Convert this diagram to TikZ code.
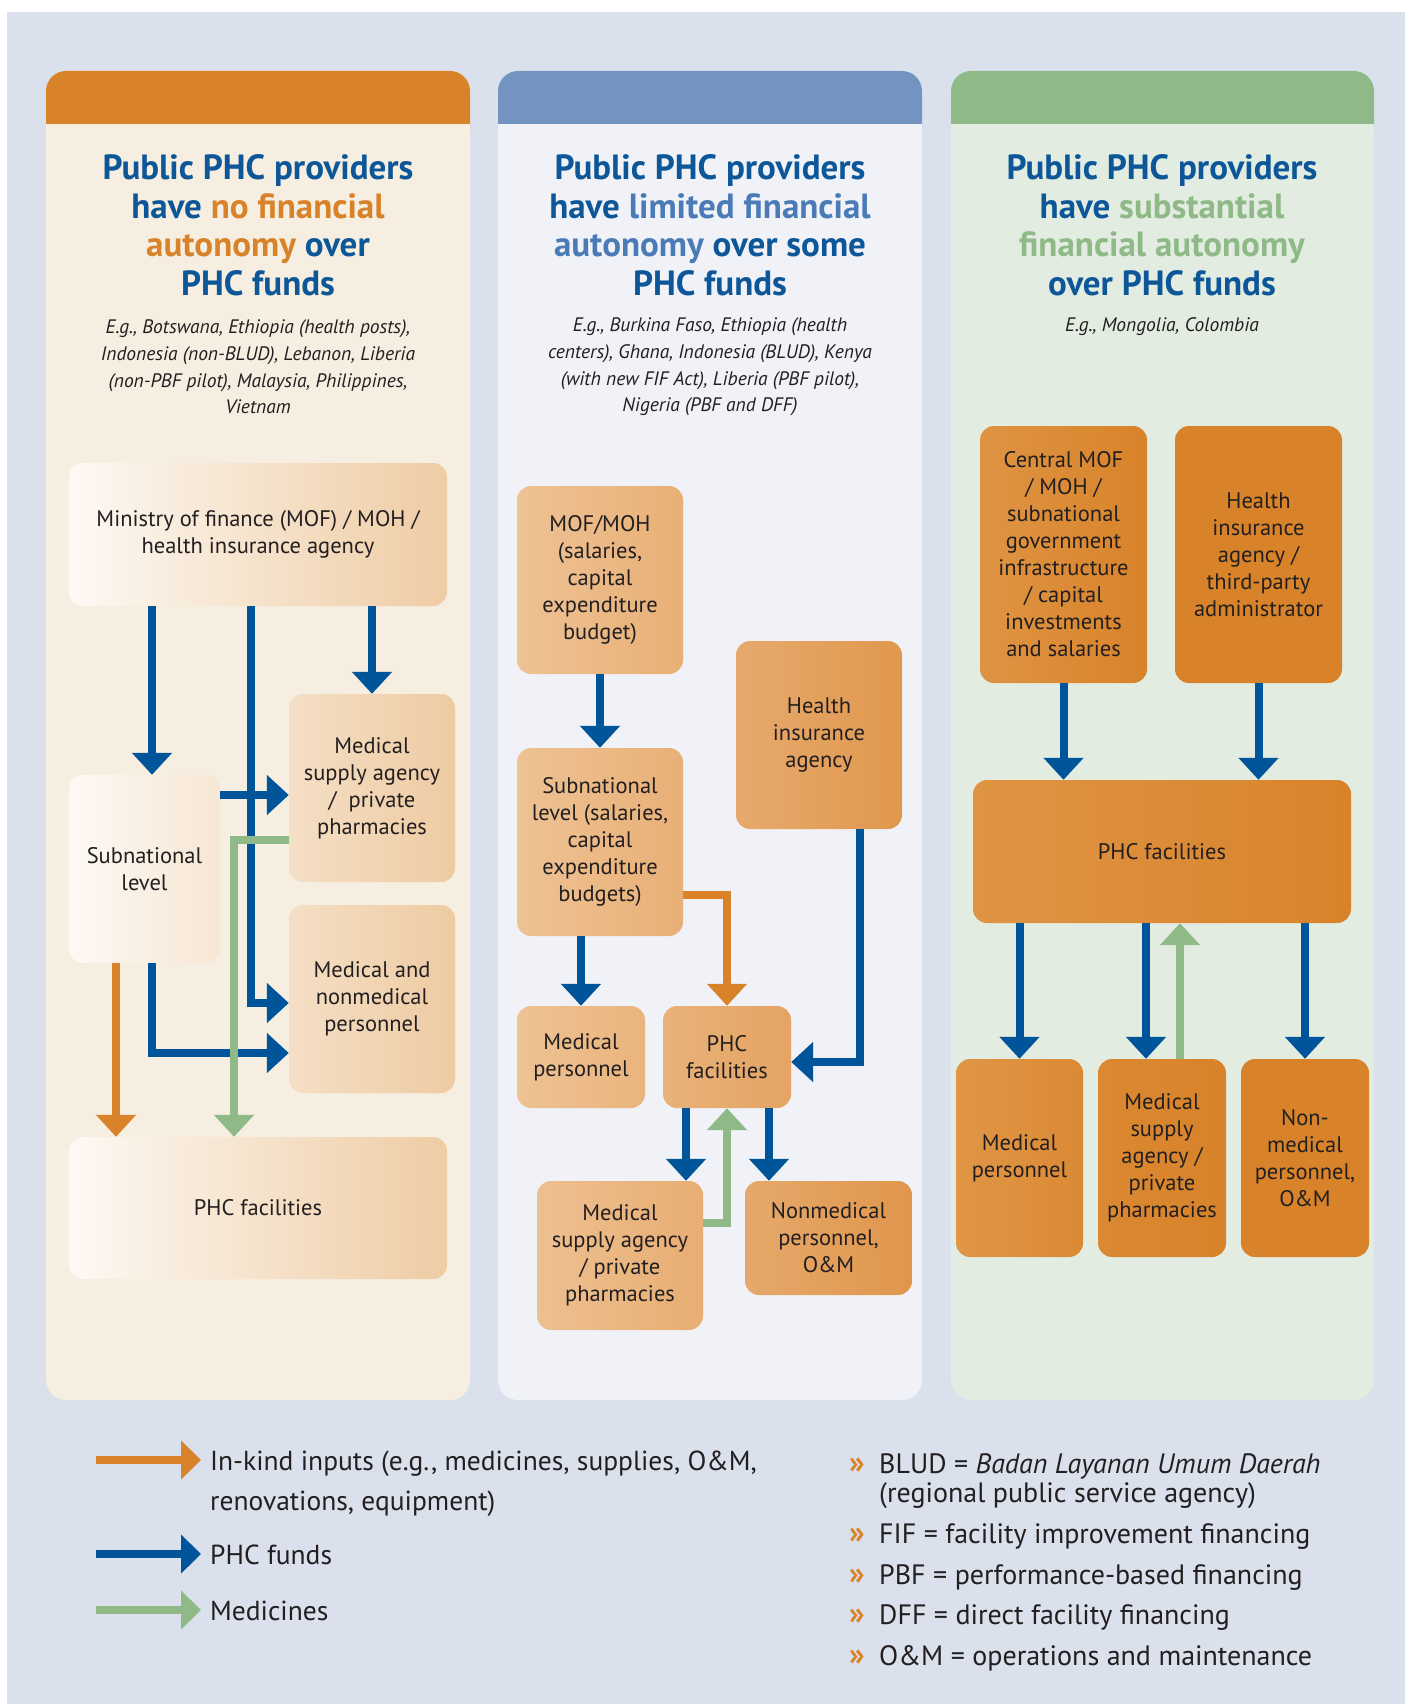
\documentclass[tikz,border=0pt]{standalone}
\usepackage{fontspec}
\setmainfont{PT Sans}
\usepackage{tikz}
\usetikzlibrary{arrows.meta, positioning, calc}

\definecolor{pageBg}{HTML}{DAE0EC}
\definecolor{hdrA}{HTML}{D8832A}
\definecolor{hdrB}{HTML}{7393C0}
\definecolor{hdrC}{HTML}{8FBA88}
\definecolor{bodyA}{HTML}{F5EEE1}
\definecolor{bodyB}{HTML}{F0F2F8}
\definecolor{bodyC}{HTML}{E2ECE1}
\definecolor{titleBlue}{HTML}{0D5799}
\definecolor{midBlue}{HTML}{4A7BB7}
\definecolor{fundBlue}{HTML}{00559A}
\definecolor{kindOr}{HTML}{D8832A}
\definecolor{medGr}{HTML}{8FBA88}
\definecolor{inkDark}{HTML}{231F20}
\definecolor{aL}{HTML}{FDF9F4}
\definecolor{aR}{HTML}{EECBA2}
\definecolor{bL}{HTML}{EEC294}
\definecolor{bR}{HTML}{E0964C}
\definecolor{cL}{HTML}{E09646}
\definecolor{cR}{HTML}{D8832A}

\begin{document}
\begin{tikzpicture}[x=1pt, y=-1pt,
    flowbox/.style={rounded corners=14pt, inner sep=0pt, align=center, text=inkDark,
        font=\fontsize{22.5}{27}\selectfont},
    headtxt/.style={align=center, text=titleBlue, font=\fontsize{35}{38.5}\selectfont\bfseries},
    egtxt/.style={align=center, text=inkDark, font=\fontsize{19.5}{26.7}\selectfont\itshape},
    flow/.style={line width=8pt, -{Triangle[width=39pt, length=22pt]}},
    fund/.style={flow, draw=fundBlue},
    kind/.style={flow, draw=kindOr},
    meds/.style={flow, draw=medGr},
    keytxt/.style={anchor=base west, inner sep=0pt, text=inkDark, font=\fontsize{27.5}{40}\selectfont},
    abbrtxt/.style={anchor=base west, inner sep=0pt, text=inkDark, font=\fontsize{28}{30}\selectfont},
]
\useasboundingbox (0,0) rectangle (1405,1704);
\fill[white] (0,0) rectangle (1405,1704);
\fill[pageBg] (7,12) rectangle (1405,1704);

% Panels
\foreach \xa/\xb/\hc/\bc in {46/470/hdrA/bodyA, 498/922/hdrB/bodyB, 951/1374/hdrC/bodyC} {
    \fill[\bc, rounded corners=20pt] (\xa,71) rectangle (\xb,1400);
    \fill[\hc, rounded corners=20pt] (\xa,71) rectangle (\xb,150);
    \fill[\bc] (\xa,124) rectangle (\xb,160);
}

% Headings
\node[headtxt] (head1) at (258,225) {Public PHC providers\\have \textcolor{kindOr}{no financial}\\\textcolor{kindOr}{autonomy} over\\PHC funds};
\node[headtxt] (head2) at (710,225) {Public PHC providers\\have \textcolor{midBlue}{limited financial}\\\textcolor{midBlue}{autonomy} over some\\PHC funds};
\node[headtxt] (head3) at (1162,225) {Public PHC providers\\have \textcolor{medGr}{substantial}\\\textcolor{medGr}{financial autonomy}\\over PHC funds};

\node[egtxt] (eg1) at (258,367) {E.g., Botswana, Ethiopia (health posts),\\Indonesia (non-BLUD), Lebanon, Liberia\\(non-PBF pilot), Malaysia, Philippines,\\Vietnam};
\node[egtxt] (eg2) at (710,367) {E.g., Burkina Faso, Ethiopia (health\\centers), Ghana, Indonesia (BLUD), Kenya\\(with new FIF Act), Liberia (PBF pilot),\\Nigeria (PBF and DFF)};
\node[egtxt] (eg3) at (1162,327) {E.g., Mongolia, Colombia};

% Column 1: no autonomy
\node[flowbox, left color=aL, right color=aR!98!aL, minimum width=378pt, minimum height=143pt] (mof1) at (258,534.5) {Ministry of finance (MOF) / MOH /\\health insurance agency};
\node[flowbox, left color=aL, right color=aR!39!aL, minimum width=151pt, minimum height=188pt] (sub1) at (144.5,869) {Subnational\\level};
\node[flowbox, left color=aR!57!aL, right color=aR, minimum width=166pt, minimum height=188pt] (sup1) at (372,788) {Medical\\supply agency\\/ \ private\\pharmacies};
\node[flowbox, left color=aR!57!aL, right color=aR, minimum width=166pt, minimum height=188pt] (per1) at (372,999) {Medical and\\nonmedical\\personnel};
\node[flowbox, left color=aL, right color=aR!98!aL, minimum width=378pt, minimum height=142pt] (phc1) at (258,1208) {PHC facilities};

\draw[fund] (152,0 |- mof1.south) -- (152,0 |- sub1.north);
\draw[fund] (251,0 |- mof1.south) |- (per1.west |- 0,1003);
\draw[fund] (sup1.north |- mof1.south) -- (sup1.north);
\draw[fund] (sub1.east |- 0,795) -- (sup1.west |- 0,795);
\draw[fund] (152,0 |- sub1.south) |- (per1.west |- 0,1053);
\draw[kind] (116,0 |- sub1.south) -- (116,0 |- phc1.north);
\draw[meds] (sup1.west |- 0,840) -| (234,0 |- phc1.north);

% Column 2: limited autonomy
\node[flowbox, left color=bL, right color=bR!42!bL, minimum width=166pt, minimum height=188pt] (mof2) at (600,580) {MOF/MOH\\(salaries,\\capital\\expenditure\\budget)};
\node[flowbox, left color=bR!55!bL, right color=bR!97!bL, minimum width=166pt, minimum height=188pt] (hia2) at (819,735) {Health\\insurance\\agency};
\node[flowbox, left color=bL, right color=bR!42!bL, minimum width=166pt, minimum height=188pt] (sub2) at (600,842) {Subnational\\level (salaries,\\capital\\expenditure\\budgets)};
\node[flowbox, left color=bL, right color=bR!32!bL, minimum width=128pt, minimum height=102pt] (med2) at (581,1057) {Medical\\personnel};
\node[flowbox, left color=bR!37!bL, right color=bR!69!bL, minimum width=128pt, minimum height=102pt] (phc2) at (727,1057) {PHC\\facilities};
\node[flowbox, left color=bR!5!bL, right color=bR!47!bL, minimum width=166pt, minimum height=149pt] (sup2) at (620,1255.5) {Medical\\supply agency\\/ private\\pharmacies};
\node[flowbox, left color=bR!58!bL, right color=bR, minimum width=167pt, minimum height=114pt] (non2) at (828.5,1238) {Nonmedical\\personnel,\\O\&M};

\draw[fund] (mof2.south) -- (sub2.north);
\draw[fund] (med2.north |- sub2.south) -- (med2.north);
\draw[fund] (860,0 |- hia2.south) |- (phc2.east |- 0,1062);
\draw[fund] (686,0 |- phc2.south) -- (686,0 |- sup2.north);
\draw[fund] (769,0 |- phc2.south) -- (769,0 |- non2.north);
\draw[kind] (sub2.east |- 0,895) -| (phc2.north);
\draw[meds] (sup2.east |- 0,1223) -| (phc2.south);

% Column 3: substantial autonomy
\node[flowbox, left color=cR!12!cL, right color=cR, minimum width=167pt, minimum height=257pt] (cen3) at (1063.5,554.5) {Central MOF\\/ MOH /\\subnational\\government\\infrastructure\\/ capital\\investments\\and salaries};
\node[flowbox, fill=cR, minimum width=167pt, minimum height=257pt] (hia3) at (1258.5,554.5) {Health\\insurance\\agency /\\third-party\\administrator};
\node[flowbox, left color=cR!9!cL, right color=cR, minimum width=378pt, minimum height=143pt] (phc3) at (1162,851.5) {PHC facilities};
\node[flowbox, left color=cL, right color=cR!65!cL, minimum width=127pt, minimum height=198pt] (med3) at (1019.5,1158) {Medical\\personnel};
\node[flowbox, left color=cR!73!cL, right color=cR, minimum width=128pt, minimum height=198pt] (sup3) at (1162,1158) {Medical\\supply\\agency /\\private\\pharmacies};
\node[flowbox, fill=cR, minimum width=128pt, minimum height=198pt] (non3) at (1305,1158) {Non-\\medical\\personnel,\\O\&M};

\draw[fund] (cen3.south) -- (cen3.south |- phc3.north);
\draw[fund] (hia3.south) -- (hia3.south |- phc3.north);
\draw[fund] (med3.north |- phc3.south) -- (med3.north);
\draw[fund] (1146,0 |- phc3.south) -- (1146,0 |- sup3.north);
\draw[fund] (non3.north |- phc3.south) -- (non3.north);
\draw[meds] (1180,0 |- sup3.north) -- (1180,0 |- phc3.south);

% Key
\node[keytxt] (keyKind) at (210,1470) {In-kind inputs (e.g., medicines, supplies, O\&M,};
\node[keytxt] (keyKind2) at (210,1510) {renovations, equipment)};
\node[keytxt] (keyFund) at (210,1564) {PHC funds};
\node[keytxt] (keyMeds) at (210,1620) {Medicines};
\foreach \st/\nm in {kind/keyKind, fund/keyFund, meds/keyMeds}
    \draw[\st, -{Triangle[width=38pt, length=20pt]}] ($(\nm.base west)+(-114,-10)$) -- ($(\nm.base west)+(-9,-10)$);

% Abbreviations
\foreach \nm/\yb/\txt in {BLUD/1473/{BLUD = \textit{Badan Layanan Umum Daerah}},
        FIF/1543/{FIF = facility improvement financing},
        PBF/1584/{PBF = performance-based financing},
        DFF/1624/{DFF = direct facility financing},
        OM/1665/{O\&M = operations and maintenance}} {
    \node[abbrtxt, text=kindOr, font=\fontsize{32}{30}\selectfont\bfseries] (dot\nm) at (849,\yb) {»};
    \node[abbrtxt] (abb\nm) at (879,\yb) {\txt};
}
\node[abbrtxt] (abbBLUD2) at (879,1502) {(regional public service agency)};
\end{tikzpicture}
\end{document}
